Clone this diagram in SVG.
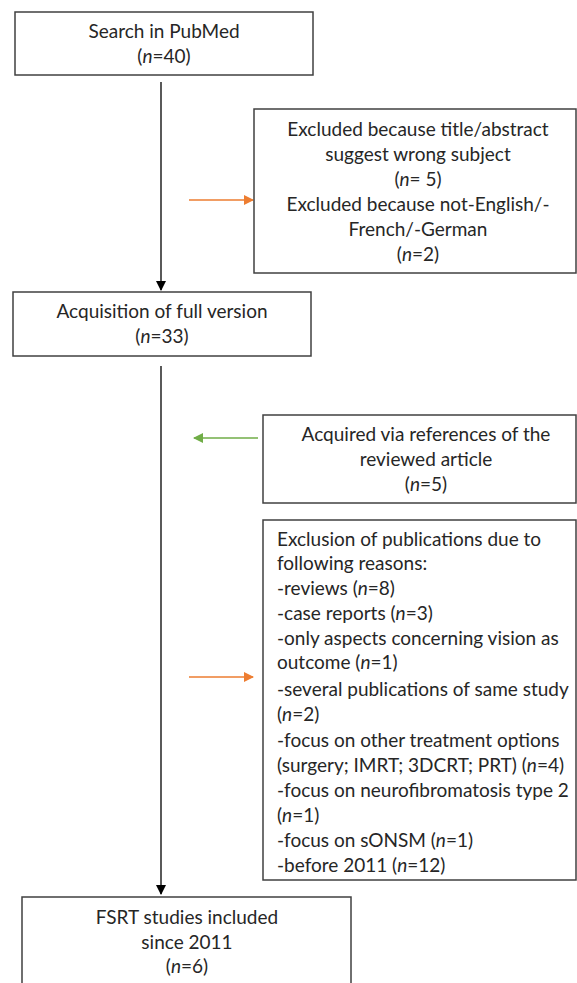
<svg xmlns="http://www.w3.org/2000/svg" width="577" height="983" viewBox="0 0 577 983">
<style>
.box{fill:#fff;stroke:#404040;stroke-width:1.5}
text{font-family:Lato,"Liberation Sans",sans-serif;font-size:19px;fill:#262626}
.c{text-anchor:middle}
.main{stroke:#000;stroke-width:1.3;fill:none}
.or{stroke:#ED7D31;stroke-width:1.3;fill:none}
.gr{stroke:#70AD47;stroke-width:1.3;fill:none}
</style>
<defs>
<marker id="ab" markerWidth="10" markerHeight="10" refX="9" refY="5" orient="auto" markerUnits="userSpaceOnUse"><path d="M0,0 L10,5 L0,10 z" fill="#000"/></marker>
<marker id="ao" markerWidth="10" markerHeight="10" refX="9" refY="5" orient="auto" markerUnits="userSpaceOnUse"><path d="M0,0 L10,5 L0,10 z" fill="#ED7D31"/></marker>
<marker id="ag" markerWidth="10" markerHeight="10" refX="9" refY="5" orient="auto" markerUnits="userSpaceOnUse"><path d="M0,0 L10,5 L0,10 z" fill="#70AD47"/></marker>
</defs>
<g id="connectors">
<line class="main" x1="161" y1="82" x2="161" y2="290" marker-end="url(#ab)"/>
<line class="main" x1="161" y1="366" x2="161" y2="894" marker-end="url(#ab)"/>
<line class="or" x1="189" y1="200" x2="253" y2="200" marker-end="url(#ao)"/>
<line class="gr" x1="258" y1="438" x2="194" y2="438" marker-end="url(#ag)"/>
<line class="or" x1="189" y1="677" x2="253" y2="677" marker-end="url(#ao)"/>
</g>
<g id="search">
<rect class="box" x="15" y="12" width="298" height="63"/>
<text class="c" x="164" y="38">Search in PubMed</text>
<text class="c" x="164" y="63">(<tspan font-style="italic">n</tspan>=40)</text>
</g>
<g id="excluded1">
<rect class="box" x="254" y="109" width="322" height="164"/>
<text class="c" x="418" y="136">Excluded because title/abstract</text>
<text class="c" x="418" y="161">suggest wrong subject</text>
<text class="c" x="418" y="186">(<tspan font-style="italic">n</tspan>= 5)</text>
<text class="c" x="418" y="211">Excluded because not-English/-</text>
<text class="c" x="418" y="236">French/-German</text>
<text class="c" x="418" y="261">(<tspan font-style="italic">n</tspan>=2)</text>
</g>
<g id="acquisition">
<rect class="box" x="13" y="292" width="298" height="64"/>
<text class="c" x="162" y="318">Acquisition of full version</text>
<text class="c" x="162" y="343">(<tspan font-style="italic">n</tspan>=33)</text>
</g>
<g id="acquired">
<rect class="box" x="263" y="415" width="313" height="88"/>
<text class="c" x="426" y="441">Acquired via references of the</text>
<text class="c" x="426" y="466">reviewed article</text>
<text class="c" x="426" y="491">(<tspan font-style="italic">n</tspan>=5)</text>
</g>
<g id="excluded2">
<rect class="box" x="263" y="520" width="313" height="360"/>
<text x="277" y="546">Exclusion of publications due to</text>
<text x="277" y="570">following reasons:</text>
<text x="277" y="595">-reviews (<tspan font-style="italic">n</tspan>=8)</text>
<text x="277" y="620">-case reports (<tspan font-style="italic">n</tspan>=3)</text>
<text x="277" y="645">-only aspects concerning vision as</text>
<text x="277" y="669">outcome (<tspan font-style="italic">n</tspan>=1)</text>
<text x="277" y="696">-several publications of same study</text>
<text x="277" y="721">(<tspan font-style="italic">n</tspan>=2)</text>
<text x="277" y="747">-focus on other treatment options</text>
<text x="277" y="772">(surgery; IMRT; 3DCRT; PRT) (<tspan font-style="italic">n</tspan>=4)</text>
<text x="277" y="797">-focus on neurofibromatosis type 2</text>
<text x="277" y="822">(<tspan font-style="italic">n</tspan>=1)</text>
<text x="277" y="847">-focus on sONSM (<tspan font-style="italic">n</tspan>=1)</text>
<text x="277" y="872">-before 2011 (<tspan font-style="italic">n</tspan>=12)</text>
</g>
<g id="included">
<rect class="box" x="22" y="897" width="329" height="100"/>
<text class="c" x="187" y="924">FSRT studies included</text>
<text class="c" x="187" y="949">since 2011</text>
<text class="c" x="187" y="973">(<tspan font-style="italic">n</tspan>=6)</text>
</g>
</svg>
